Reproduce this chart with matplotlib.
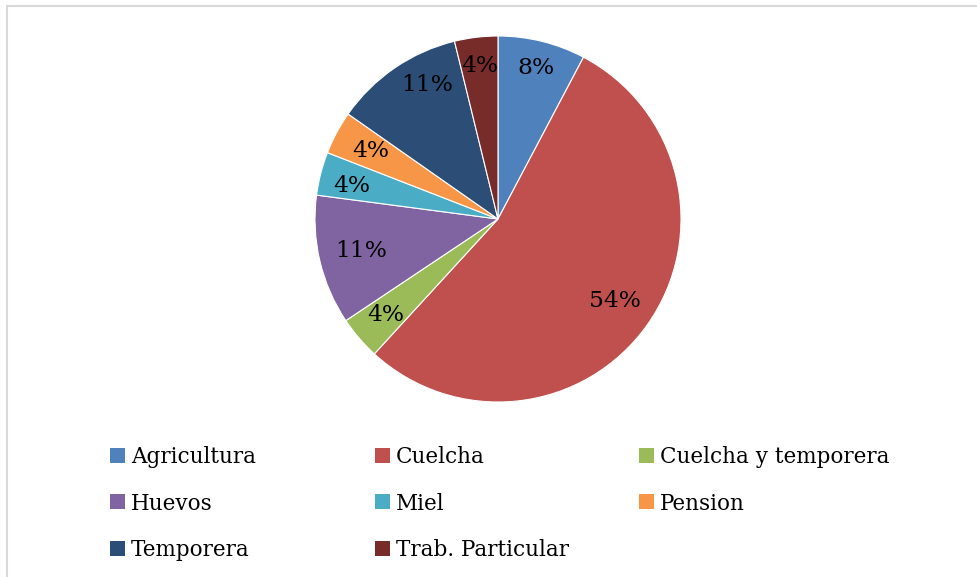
import numpy as np
import matplotlib
matplotlib.use("Agg")
import matplotlib.pyplot as plt
from matplotlib.patches import Rectangle

# ---- data ----
categories = ["Agricultura", "Cuelcha", "Cuelcha y temporera", "Huevos",
              "Miel", "Pension", "Temporera", "Trab. Particular"]
values = [7.7, 53.8, 3.8, 11.4, 3.8, 3.8, 11.4, 3.8]

# ---- styles ----
colors = ["#4F81BD", "#C0504D", "#9BBB59", "#8064A2",
          "#4BACC6", "#F79646", "#2C4D75", "#772C2A"]
label_dist = [0.85, 0.78, 0.81, 0.77, 0.82, 0.79, 0.83, 0.84]
label_dang = [0, 0, 0, 0, 1.5, 0, -6.6, 0]
FONT = "DejaVu Serif"

W, H = 977, 577
fig = plt.figure(figsize=(W / 100, H / 100), dpi=100)

# outer frame (gray border, continues past right/bottom edge)
fig.add_artist(Rectangle((6.5 / W, -0.1), 1.2, (H - 5.5) / H + 0.1,
                         transform=fig.transFigure, fill=False,
                         edgecolor="#D9D9D9", linewidth=1.5))

cx, cy, r = 498, 219, 183
ax = fig.add_axes([(cx - r) / W, (H - cy - r) / H, 2 * r / W, 2 * r / H])
wedges, _ = ax.pie(values, colors=colors, startangle=90, counterclock=False,
                   radius=1, wedgeprops=dict(edgecolor="white", linewidth=0.8))
ax.set_xlim(-1, 1)
ax.set_ylim(-1, 1)
ax.axis("off")

total = sum(values)
for w, v, d, da in zip(wedges, values, label_dist, label_dang):
    ang = np.deg2rad((w.theta1 + w.theta2) / 2 + da)
    ax.text(d * np.cos(ang), d * np.sin(ang), "%.0f%%" % (100 * v / total),
            ha="center", va="center", fontsize=16.8, family=FONT, color="black")

# ---- legend (3 columns, row-major) ----
col_x = [110, 375, 639]
row_y = [455, 501.5, 548]
sq = 15
for i, (cat, col) in enumerate(zip(categories, colors)):
    rr, cc = divmod(i, 3)
    x0, yc = col_x[cc], row_y[rr]
    fig.add_artist(Rectangle((x0 / W, (H - yc - sq / 2) / H), sq / W, sq / H,
                             transform=fig.transFigure, facecolor=col,
                             edgecolor="none"))
    fig.text((x0 + 21) / W, (H - yc - 8) / H, cat, ha="left", va="baseline",
             fontsize=15.5, family=FONT, color="black")

fig.savefig("out.png", dpi=100, facecolor="white")
